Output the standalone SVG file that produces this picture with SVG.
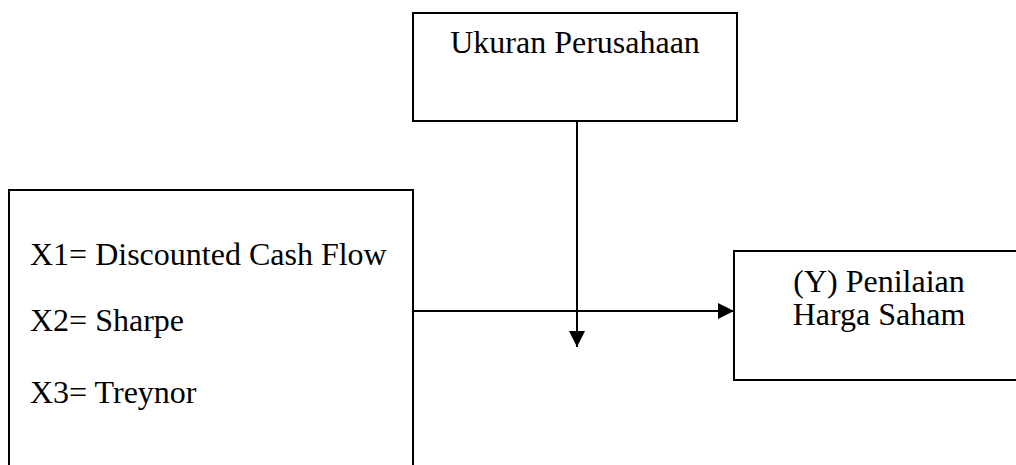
<svg xmlns="http://www.w3.org/2000/svg" width="1016" height="465" viewBox="0 0 1016 465">
<style>
.box{fill:#fff;stroke:#000;stroke-width:2}
.t{font-family:'Liberation Serif', Tinos, 'Times New Roman', Times, serif;font-size:32px;fill:#000}
.c{text-anchor:middle}
.ln{stroke:#000;stroke-width:2;fill:none}
</style>
<defs>
<marker id="ah" viewBox="0 0 16 16" refX="16" refY="8" markerWidth="16" markerHeight="16" markerUnits="userSpaceOnUse" orient="auto">
<path d="M0,0 L16,8 L0,16 Z" fill="#000"/>
</marker>
</defs>
<rect width="1016" height="465" fill="#fff"/>
<g id="ukuran">
<rect class="box" x="413" y="13" width="324" height="108"/>
<text class="t c" x="575" y="53" font-family="Liberation Serif, serif">Ukuran Perusahaan</text>
</g>
<g id="variabel-x">
<rect class="box" x="9" y="190" width="404" height="300"/>
<text class="t" x="30" y="265">X1= Discounted Cash Flow</text>
<text class="t" x="30" y="331">X2= Sharpe</text>
<text class="t" x="30" y="403">X3= Treynor</text>
</g>
<g id="penilaian-y">
<rect class="box" x="734" y="251" width="300" height="129"/>
<text class="t c" x="879" y="292">(Y) Penilaian</text>
<text class="t c" x="879" y="325">Harga Saham</text>
</g>
<g id="connectors">
<line class="ln" x1="577" y1="121" x2="577" y2="347" marker-end="url(#ah)"/>
<line class="ln" x1="413" y1="311" x2="734" y2="311" marker-end="url(#ah)"/>
</g>
</svg>
